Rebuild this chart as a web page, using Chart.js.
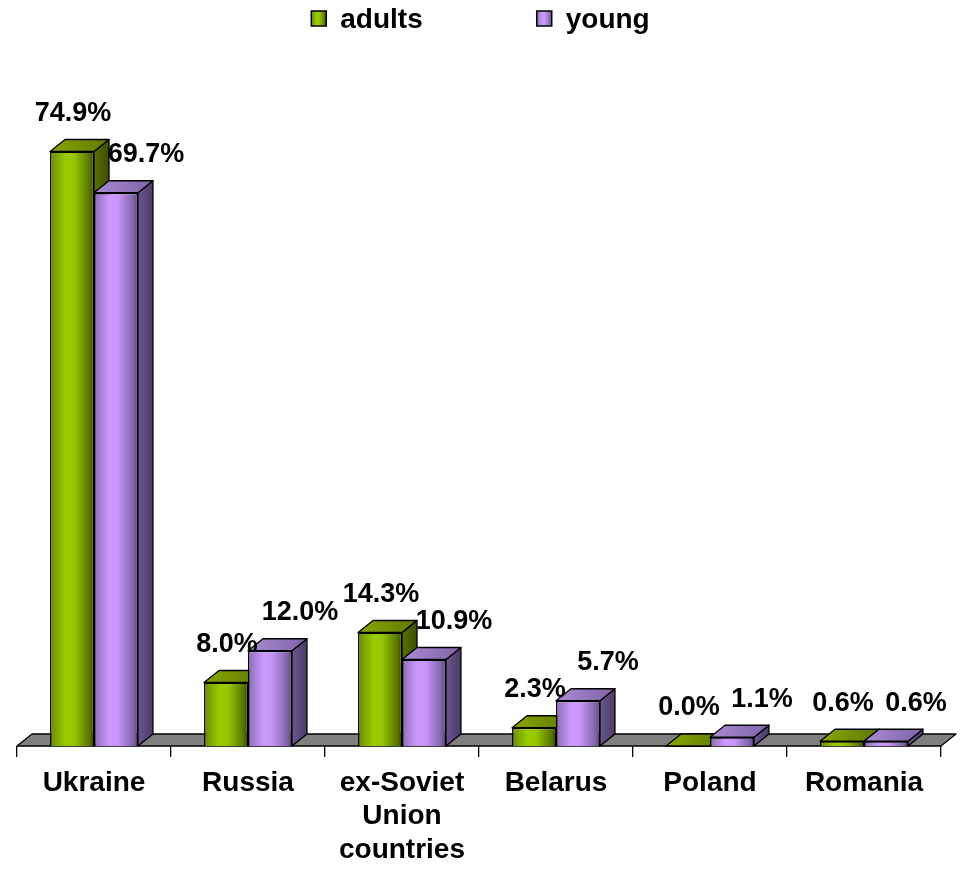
<!DOCTYPE html>
<html>
<head>
<meta charset="utf-8">
<script src="https://cdn.jsdelivr.net/npm/chart.js@4.4.0/dist/chart.umd.min.js"></script>
<style>
  html, body { margin: 0; padding: 0; background: #fff; }
  #wrap { width: 961px; height: 882px; }
</style>
</head>
<body>
<div id="wrap"><canvas id="chart" width="961" height="882"></canvas></div>
<script>
// Dados do gráfico
const categories = ['Ukraine', 'Russia', ['ex-Soviet', 'Union', 'countries'], 'Belarus', 'Poland', 'Romania'];
const seriesNames = ['adults', 'young'];
const adults = [74.9, 8.0, 14.3, 2.3, 0.0, 0.6];
const young = [69.7, 12.0, 10.9, 5.7, 1.1, 0.6];
const yMax = 80;

const FONT = '"Liberation Sans", Arial, sans-serif';
const CAT_PCT = 0.571;
const DX = 15, DY = 12; // profundidade do efeito 3D

// cores: frente, lado, topo
const palette = [
  { solid: '#99cc00', front: ['#6a8a00', '#99cc00', '#95c600', '#5c7800', '#3c4d00'], side: ['#587000', '#3d4e00'], top: ['#88a800', '#5f7800'] },
  { solid: '#cc99ff', front: ['#8a6db3', '#cc99ff', '#c794f7', '#8466ad', '#5f4a80'], side: ['#6a5690', '#4a3b66'], top: ['#ab8bd4', '#7e64a6'] }
];

function hGradient(ctx, left, right, stops) {
  const g = ctx.createLinearGradient(left, 0, right, 0);
  if (stops.length === 2) {
    g.addColorStop(0, stops[0]);
    g.addColorStop(1, stops[1]);
  } else {
    g.addColorStop(0, stops[0]);
    g.addColorStop(0.35, stops[1]);
    g.addColorStop(0.55, stops[2]);
    g.addColorStop(0.88, stops[3]);
    g.addColorStop(1, stops[4]);
  }
  return g;
}

// gradiente da face frontal de cada barra
function frontColor(c) {
  const chart = c.chart;
  const xs = chart.scales.x;
  const p = palette[c.datasetIndex];
  if (!xs || c.dataIndex === undefined || !xs.width) return p.solid;
  const cw = xs.width / categories.length;
  const bw = cw * CAT_PCT / 2;
  const center = xs.getPixelForValue(c.dataIndex);
  const left = center - bw + c.datasetIndex * bw;
  return hGradient(chart.ctx, left, left + bw, p.front);
}

// chão, laterais e topos das barras
const depth3d = {
  id: 'depth3d',
  beforeDatasetsDraw(chart) {
    const ctx = chart.ctx;
    const a = chart.chartArea;
    ctx.save();
    ctx.lineWidth = 1.3;
    ctx.strokeStyle = '#000';
    ctx.lineJoin = 'round';
    ctx.beginPath();
    ctx.moveTo(a.left, a.bottom);
    ctx.lineTo(a.right, a.bottom);
    ctx.lineTo(a.right + DX, a.bottom - DY);
    ctx.lineTo(a.left + DX, a.bottom - DY);
    ctx.closePath();
    ctx.fillStyle = '#808080';
    ctx.fill();
    ctx.stroke();

    for (let i = 0; i < categories.length; i++) {
      for (let d = 0; d < chart.data.datasets.length; d++) {
        const el = chart.getDatasetMeta(d).data[i];
        const { x, y, base, width } = el.getProps(['x', 'y', 'base', 'width'], true);
        const l = x - width / 2, r = x + width / 2;
        const p = palette[d];
        // lateral
        ctx.beginPath();
        ctx.moveTo(r, y);
        ctx.lineTo(r + DX, y - DY);
        ctx.lineTo(r + DX, base - DY);
        ctx.lineTo(r, base);
        ctx.closePath();
        ctx.fillStyle = hGradient(ctx, r, r + DX, p.side);
        ctx.fill();
        ctx.stroke();
        // topo
        ctx.beginPath();
        ctx.moveTo(l, y);
        ctx.lineTo(r, y);
        ctx.lineTo(r + DX, y - DY);
        ctx.lineTo(l + DX, y - DY);
        ctx.closePath();
        ctx.fillStyle = hGradient(ctx, l, r + DX, p.top);
        ctx.fill();
        ctx.stroke();
      }
    }
    ctx.restore();
  },
  afterDatasetsDraw(chart) {
    // rótulos de valor
    const ctx = chart.ctx;
    ctx.save();
    ctx.font = 'bold 27px ' + FONT;
    ctx.fillStyle = '#000';
    ctx.textAlign = 'center';
    ctx.textBaseline = 'middle';
    chart.data.datasets.forEach((ds, d) => {
      chart.getDatasetMeta(d).data.forEach((el, i) => {
        const shift = d === 0 ? 1 : 30;
        ctx.fillText(ds.data[i].toFixed(1) + '%', el.x + shift, el.y - 38);
      });
    });
    ctx.restore();
  },
  afterDraw(chart) {
    // legenda no topo
    const ctx = chart.ctx;
    ctx.save();
    ctx.font = 'bold 28px ' + FONT;
    const box = 15, gap = 14, spacing = 114;
    const widths = seriesNames.map(n => ctx.measureText(n).width);
    const total = widths.reduce((s, w) => s + box + gap + w, 0) + spacing * (seriesNames.length - 1);
    let x = (chart.width - total) / 2;
    seriesNames.forEach((name, d) => {
      ctx.fillStyle = hGradient(ctx, x, x + box, palette[d].front);
      ctx.fillRect(x, 11, box, box);
      ctx.lineWidth = 1.5;
      ctx.strokeStyle = '#000';
      ctx.strokeRect(x, 11, box, box);
      ctx.fillStyle = '#000';
      ctx.textBaseline = 'alphabetic';
      ctx.textAlign = 'left';
      ctx.fillText(name, x + box + gap, 28);
      x += box + gap + widths[d] + spacing;
    });
    ctx.restore();
  }
};

const ctx = document.getElementById('chart').getContext('2d');
const chart = new Chart(ctx, {
  type: 'bar',
  data: {
    labels: categories,
    datasets: [
      { label: seriesNames[0], data: adults, backgroundColor: frontColor, borderColor: '#000', borderWidth: 1.5 },
      { label: seriesNames[1], data: young, backgroundColor: frontColor, borderColor: '#000', borderWidth: 1.5 }
    ]
  },
  options: {
    responsive: false,
    animation: false,
    categoryPercentage: CAT_PCT,
    barPercentage: 1,
    layout: { padding: { left: 17, right: 20, top: 111, bottom: 0 } },
    plugins: {
      legend: { display: false },
      tooltip: { enabled: false }
    },
    scales: {
      x: {
        grid: { offset: true, drawOnChartArea: false, drawTicks: true, tickLength: 11, color: '#000', lineWidth: 1.3 },
        border: { display: false },
        ticks: { color: '#000', font: { family: FONT, size: 28, weight: 'bold' }, padding: 9, maxRotation: 0, autoSkip: false },
        afterFit(s) { s.height = 136; }
      },
      y: { display: false, min: 0, max: yMax }
    }
  },
  plugins: [depth3d]
});
</script>
</body>
</html>
